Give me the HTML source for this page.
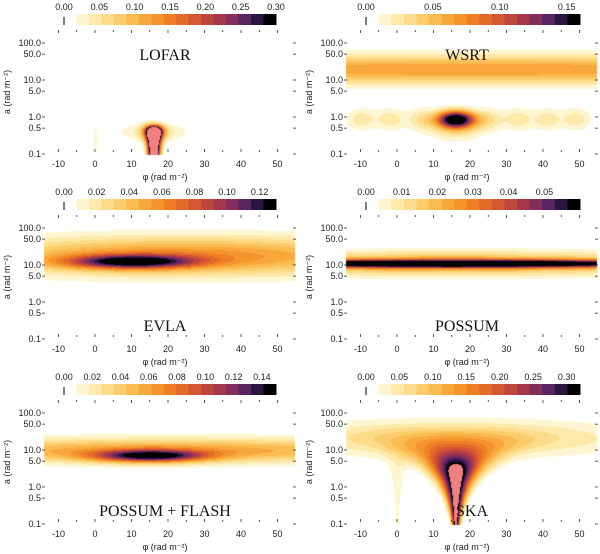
<!DOCTYPE html>
<html><head><meta charset="utf-8"><style>
body{margin:0;background:#fff;width:600px;height:554px;overflow:hidden;position:relative}
canvas,svg{position:absolute;left:0;top:0}
text{font-family:"Liberation Sans",sans-serif;fill:#222}
.t{font-family:"Liberation Serif",serif;font-size:16px;fill:#111}
</style></head><body>
<canvas id="c" width="600" height="554"></canvas>
<svg id="s" width="600" height="554"></svg>
<script>
// panel data
const panelNames=["LOFAR","WSRT","EVLA","POSSUM","POSSUM + FLASH","SKA"];
const panelMax=[0.30,0.16,0.13,0.06,0.15,0.32];
const panelSat=[true,false,false,false,false,true];
const cbTicks=[[0,0.05,0.10,0.15,0.20,0.25,0.30],[0,0.05,0.10,0.15],[0,0.02,0.04,0.06,0.08,0.10,0.12],[0,0.01,0.02,0.03,0.04,0.05],[0,0.02,0.04,0.06,0.08,0.10,0.12,0.14],[0,0.05,0.10,0.15,0.20,0.25,0.30]];
// gaussian components per panel: amp, phi centre, phi width, log10(a) centre, log width
const gAmp=[[0.12,0.045,0.03],[0.065,0.17,0.035,0.025,0.025,0.025,0.025,0.025,0.025,0.025],[0.10,0.06],[0.06,0.025],[0.12,0.06],[0.07]];
const gPhi=[[16,16,0],[20,16,16,-10,-2,6.5,25,33,41,49],[10,25],[15,15],[15,20],[15]];
const gSPhi=[[3,9,0.7],[200,5,7,4,4,4,4,4,4,4],[17,60],[70,70],[15,80],[50]];
const gLa=[[-0.4,-0.4,-0.6],[1.3,-0.05,-0.25,-0.05,-0.05,-0.05,-0.05,-0.05,-0.05,-0.05],[1.1,1.25],[1.05,1.05],[0.85,1.0],[1.3]];
const gSLa=[[0.2,0.25,0.35],[0.38,0.22,0.35,0.3,0.3,0.3,0.3,0.3,0.3,0.3],[0.18,0.5],[0.1,0.3],[0.16,0.32],[0.45]];
// funnel components: amp, phi centre, base width, growth, top log a, decay
const fAmp=[[0.5],[],[],[],[],[0.36,0.03]];
const fPhi=[[16],[],[],[],[],[16,0]];
const fW0=[[1.5],[],[],[],[],[1.0,0.4]];
const fG=[[0.2],[],[],[],[],[0.55,0.55]];
const fTop=[[-0.4],[],[],[],[],[0.35,0.5]];
const fDec=[[0.15],[],[],[],[],[0.75,0.5]];
const xTicks=[-10,0,10,20,30,40,50];
const yTickVals=[100,50,10,5,1,0.5,0.1];
const yTickLabels=["100.0","50.0","10.0","5.0","1.0","0.5","0.1"];
const cols=["#fef6d0","#fde9aa","#fcdc8a","#fbcc6c","#fabb51","#f8a83b","#f4942b","#ee7f25","#e36a28","#d45632","#bf453f","#a3384d","#822f5b","#5a2463","#2a1440","#000000"];
const NL=17;
function hex(h){return [parseInt(h.substr(1,2),16),parseInt(h.substr(3,2),16),parseInt(h.substr(5,2),16)];}
const rgb=cols.map(hex), pink=[240,128,128];
function origin(p){return [(p%2)*302, Math.floor(p/2)*185];}
function xPx(p,phi){return origin(p)[0]+95+3.65*phi;}
function yPx(p,la){return origin(p)[1]+154-37*(la+1);}
function field(p,x,la){
  let v=0;
  for(let i=0;i<gAmp[p].length;i++){
    const dx=(x-gPhi[p][i])/gSPhi[p][i], dy=(la-gLa[p][i])/gSLa[p][i];
    v+=gAmp[p][i]*Math.exp(-dx*dx-dy*dy);
  }
  for(let i=0;i<fAmp[p].length;i++){
    const w=fW0[p][i]*Math.pow(10,(la+1)*fG[p][i]);
    const dx=(x-fPhi[p][i])/w;
    let t=1; if(la>fTop[p][i]){const d=(la-fTop[p][i])/fDec[p][i]; t=Math.exp(-d*d);}
    v+=fAmp[p][i]*Math.exp(-dx*dx)*t;
  }
  return v;
}
const ctx=document.getElementById('c').getContext('2d');
const img=ctx.createImageData(600,554);
for(let i=0;i<img.data.length;i++)img.data[i]=255;
for(let p=0;p<6;p++){
  const [ox,oy]=origin(p);
  for(let py=oy+30;py<oy+155;py++){
    const la=(oy+154-py)/37-1;
    for(let px=ox+44;px<ox+295;px++){
      const phi=(px-ox-95)/3.65;
      const v=field(p,phi,la);
      const k=Math.floor(v/panelMax[p]*NL);
      if(k<1)continue;
      const c=(k>=NL&&panelSat[p])?pink:rgb[Math.min(k-1,15)];
      const o=(py*600+px)*4;
      img.data[o]=c[0];img.data[o+1]=c[1];img.data[o+2]=c[2];
    }
  }
}
ctx.putImageData(img,0,0);
const svg=document.getElementById('s'), NS="http://www.w3.org/2000/svg";
function el(tag,at,txt){const e=document.createElementNS(NS,tag);for(const k in at)e.setAttribute(k,at[k]);if(txt!==undefined)e.textContent=txt;svg.appendChild(e);return e;}
for(let p=0;p<6;p++){
  const [ox,oy]=origin(p);
  const bx=ox+64, bw=ox===0?212:214, by=oy+14;
  const segw=bw/NL;
  for(let k=1;k<NL;k++){
    const r=el('rect',{x:bx+k*segw,y:by,width:segw+0.5,height:11,fill:cols[k-1]});
    
    
  }
  const ln=el('line',{x1:bx,y1:by+3,x2:bx,y2:by+11,stroke:'#000','stroke-width':1});
  
  
  cbTicks[p].forEach(v=>{
    const t=el('text',{x:bx+v/panelMax[p]*bw,y:oy+10,'font-size':9,'text-anchor':'middle'},v.toFixed(2));
    
    
  });
  for(let v=-15;v<=55;v+=5){
    const x=xPx(p,v); if(x<ox+44||x>ox+295)continue;
    const h=v%10===0?3:2;
    el('line',{x1:x,y1:oy+152,x2:x,y2:oy+152-h,stroke:'#333','stroke-width':0.8});
    el('line',{x1:x,y1:oy+30,x2:x,y2:oy+30+h,stroke:'#333','stroke-width':0.8});
  }
  xTicks.forEach(v=>{
    const t=el('text',{x:xPx(p,v),y:oy+167,'font-size':9,'text-anchor':'middle'},String(v));
    
    
  });
  yTickVals.forEach((v,i)=>{
    const y=yPx(p,Math.log10(v));
    el('line',{x1:ox+42,y1:y,x2:ox+45,y2:y,stroke:'#333','stroke-width':0.8});
    el('line',{x1:ox+293,y1:y,x2:ox+296,y2:y,stroke:'#333','stroke-width':0.8});
    const t=el('text',{x:ox+41,y:y+3,'font-size':9,'text-anchor':'end'},yTickLabels[i]);
    
    
  });
  const xt=el('text',{x:ox+165,y:oy+180,'font-size':9,'text-anchor':'middle'},'\u03c6 (rad m\u207b\u00b2)');
  
  
  const yt=el('text',{x:0,y:0,'font-size':9,'text-anchor':'middle',transform:`translate(${ox+10},${oy+92}) rotate(-90)`},'a (rad m\u207b\u00b2)');
  
  
  const ty=(p<2)?oy+60:oy+146;
  const tx=p===5?ox+170:ox+165;
  const tt=el('text',{x:tx,y:ty,'class':'t','text-anchor':'middle'},panelNames[p]);
  
  
}
</script>
</body></html>
